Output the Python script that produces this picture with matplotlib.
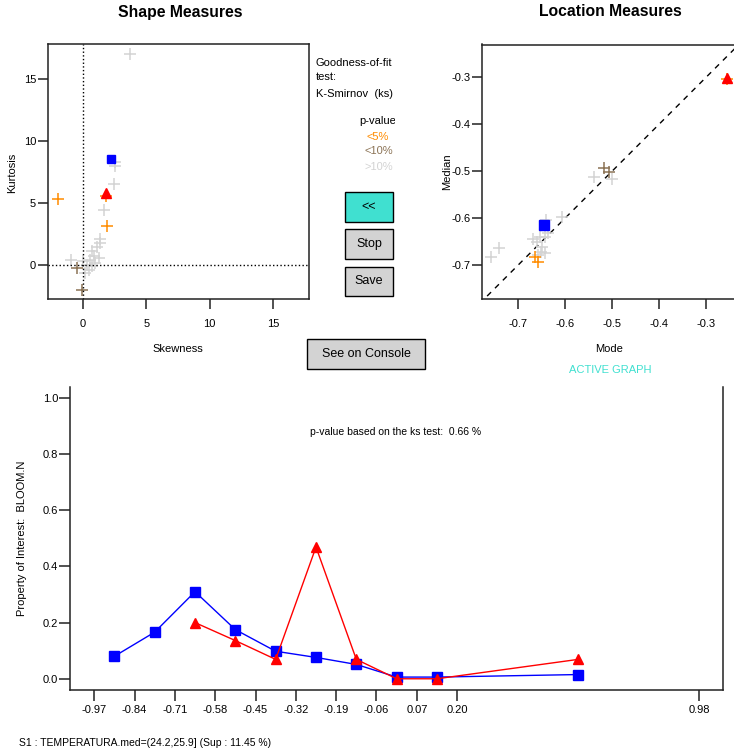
import matplotlib
matplotlib.use("Agg")
import matplotlib.pyplot as plt
from matplotlib.patches import Rectangle

plt.rcParams['font.family'] = ['Liberation Sans', 'DejaVu Sans']

W, H = 734, 754

# --- shape measures (skewness, kurtosis) ---
shape_gray_x = [3.74, 2.56, 2.5, 2.42, 1.63, 1.37, 1.32, 1.1, 0.71, 0.85, 0.58, 1.24, -0.92, 0.32, 0.45, 0.19, 0.0, 0.98, 0.71]
shape_gray_y = [17.07, 7.98, 8.3, 6.5, 4.47, 2.1, 1.78, 1.46, 1.1, 0.75, 0.43, 0.57, 0.43, 0.02, -0.38, -0.65, 0.3, 0.16, -0.1]
shape_brown_x = [-0.47, -0.08]
shape_brown_y = [-0.24, -2.0]
shape_orange_x = [-1.97, 1.9, 1.85]
shape_orange_y = [5.36, 3.18, 5.6]
shape_ref = (2.19, 8.6)
shape_sub = (1.85, 5.82)

# --- location measures (mode, median) ---
loc_gray_x = [-0.740, -0.757, -0.608, -0.640, -0.668, -0.654, -0.643, -0.661, -0.650, -0.652, -0.643, -0.657, -0.636, -0.538, -0.501]
loc_gray_y = [-0.663, -0.684, -0.598, -0.605, -0.644, -0.640, -0.640, -0.651, -0.661, -0.672, -0.675, -0.679, -0.633, -0.513, -0.518]
loc_brown_x = [-0.518, -0.507]
loc_brown_y = [-0.493, -0.503]
loc_orange_x = [-0.664, -0.657, -0.257]
loc_orange_y = [-0.682, -0.693, -0.305]
loc_ref = (-0.645, -0.615)
loc_sub = (-0.257, -0.302)

# --- property of interest by bin ---
bin_ticks = [-0.97, -0.84, -0.71, -0.58, -0.45, -0.32, -0.19, -0.06, 0.07, 0.20, 0.98]
blue_x = [-0.905, -0.775, -0.645, -0.515, -0.385, -0.255, -0.125, 0.005, 0.135, 0.59]
blue_y = [0.080, 0.166, 0.310, 0.175, 0.098, 0.076, 0.051, 0.006, 0.006, 0.015]
red_x = [-0.645, -0.515, -0.385, -0.255, -0.125, 0.005, 0.135, 0.59]
red_y = [0.200, 0.136, 0.069, 0.469, 0.069, 0.0, 0.0, 0.069]

GRAY = '#D3D3D3'
BROWN = '#8B7355'
ORANGE = '#FF8C00'
TURQ = '#40E0D0'
SPINE = '#222222'


def fx(x):
    return x / W


def fy(y):
    return 1 - y / H


def add_axes_px(fig, left, top, right, bottom):
    return fig.add_axes([fx(left), fy(bottom), (right - left) / W, (bottom - top) / H])


def style_axes(ax, ticklen, xpad, ypad):
    for s in ax.spines.values():
        s.set_linewidth(1.1)
        s.set_color(SPINE)
    ax.tick_params(direction='out', length=ticklen, width=1.2, color='#333333', labelsize=8)
    ax.tick_params(axis='x', pad=xpad)
    ax.tick_params(axis='y', pad=ypad)


fig = plt.figure(figsize=(W / 100, H / 100), dpi=100)

# Shape Measures
ax1 = add_axes_px(fig, 48, 44, 309, 299)
ax1.plot(shape_gray_x, shape_gray_y, '+', color=GRAY, ms=9, mew=1.1)
ax1.plot(shape_brown_x, shape_brown_y, '+', color=BROWN, ms=9, mew=1.1)
ax1.plot(shape_orange_x, shape_orange_y, '+', color=ORANGE, ms=9, mew=1.1)
ax1.plot([shape_ref[0]], [shape_ref[1]], 's', color='blue', ms=5.5)
ax1.plot([shape_sub[0]], [shape_sub[1]], '^', color='red', ms=6.5)
ax1.axvline(0, color='black', ls=':', lw=1)
ax1.axhline(0, color='black', ls=':', lw=1)
ax1.set_xlim(-2.76, 17.86)
ax1.set_ylim(-2.76, 17.86)
ax1.set_xticks([0, 5, 10, 15])
ax1.set_yticks([0, 5, 10, 15])
style_axes(ax1, 7.5, 7, 1)
fig.text(fx(178), fy(349), 'Skewness', fontsize=8, ha='center', va='center')
fig.text(fx(12), fy(173), 'Kurtosis', fontsize=8, rotation=90, ha='center', va='center')
fig.text(fx(180), fy(12), 'Shape Measures', fontsize=11.3, fontweight='bold', ha='center', va='center')

# Location Measures
ax2 = add_axes_px(fig, 482, 44.5, 737, 299.3)
ax2.plot([-1, 0], [-1, 0], color='black', ls=(0, (4, 4)), lw=1)
ax2.plot(loc_gray_x, loc_gray_y, '+', color=GRAY, ms=9, mew=1.1)
ax2.plot(loc_brown_x, loc_brown_y, '+', color=BROWN, ms=9, mew=1.1)
ax2.plot(loc_orange_x, loc_orange_y, '+', color=ORANGE, ms=9, mew=1.1)
ax2.plot([loc_ref[0]], [loc_ref[1]], 's', color='blue', ms=6.5)
ax2.plot([loc_sub[0]], [loc_sub[1]], '^', color='red', ms=6.5)
ax2.set_xlim(-0.777, -0.235)
ax2.set_ylim(-0.773, -0.231)
ax2.set_xticks([-0.7, -0.6, -0.5, -0.4, -0.3])
ax2.set_yticks([-0.7, -0.6, -0.5, -0.4, -0.3])
ax2.set_xticklabels(['-0.7', '-0.6', '-0.5', '-0.4', '-0.3'])
ax2.set_yticklabels(['-0.7', '-0.6', '-0.5', '-0.4', '-0.3'])
style_axes(ax2, 7.5, 7, 1)
fig.text(fx(609), fy(349), 'Mode', fontsize=8, ha='center', va='center')
fig.text(fx(447), fy(172), 'Median', fontsize=8, rotation=90, ha='center', va='center')
fig.text(fx(610), fy(12), 'Location Measures', fontsize=11.3, fontweight='bold', ha='center', va='center')
fig.text(fx(610), fy(370), 'ACTIVE GRAPH', fontsize=8, color=TURQ, ha='center', va='center')

# middle legend / controls, clipped at the right like the original
axm = add_axes_px(fig, 309, 44, 395, 180)
axm.set_axis_off()
axm.set_xlim(309, 395)
axm.set_ylim(180, 44)
for txt, yy in [('Goodness-of-fit', 63), ('test:', 77), ('K-Smirnov  (ks)', 94)]:
    t = axm.text(316, yy, txt, fontsize=8, ha='left', va='center')
    t.set_clip_on(True)
t = axm.text(378, 121.5, 'p-value', fontsize=8, ha='center', va='center')
t.set_clip_on(True)
axm.text(378, 136.5, '<5%', fontsize=8, color=ORANGE, ha='center', va='center')
axm.text(379, 151.5, '<10%', fontsize=8, color=BROWN, ha='center', va='center')
axm.text(379, 166.5, '>10%', fontsize=8, color=GRAY, ha='center', va='center')

buttons = [('<<', 345, 191.7, 392.7, 221.7, TURQ),
           ('Stop', 345, 229.3, 392.7, 259, GRAY),
           ('Save', 345, 266.7, 392.7, 296, GRAY),
           ('See on Console', 307.3, 339.3, 425, 369.3, GRAY)]
for label, x0, y0, x1, y1, col in buttons:
    fig.patches.append(Rectangle((fx(x0), fy(y1)), (x1 - x0) / W, (y1 - y0) / H,
                                 transform=fig.transFigure, facecolor=col,
                                 edgecolor='black', lw=1))
    fig.text(fx((x0 + x1) / 2), fy((y0 + y1) / 2), label, fontsize=9,
             ha='center', va='center')

# bottom panel
ax3 = add_axes_px(fig, 70, 386.7, 723.3, 690)
ax3.plot(blue_x, blue_y, '-s', color='blue', ms=7, lw=1)
ax3.plot(red_x, red_y, '-^', color='red', ms=7.5, lw=1)
ax3.set_xlim(-1.048, 1.058)
ax3.set_ylim(-0.04, 1.04)
ax3.set_xticks(bin_ticks)
ax3.set_xticklabels(['%.2f' % v for v in bin_ticks])
ax3.set_yticks([0.0, 0.2, 0.4, 0.6, 0.8, 1.0])
ax3.set_yticklabels(['0.0', '0.2', '0.4', '0.6', '0.8', '1.0'])
style_axes(ax3, 8, 2.5, 0.5)
ax3.spines['top'].set_visible(False)
ax3.text(0.0, 0.88, 'p-value based on the ks test:  0.66 %', fontsize=7.5,
         ha='center', va='center')
fig.text(fx(22), fy(538), 'Property of Interest:  BLOOM.N', fontsize=8,
         rotation=90, ha='center', va='center')
fig.text(fx(19), fy(743), 'S1 : TEMPERATURA.med=(24.2,25.9] (Sup : 11.45 %)',
         fontsize=7.5, ha='left', va='center')

fig.savefig('out.png', dpi=100)
